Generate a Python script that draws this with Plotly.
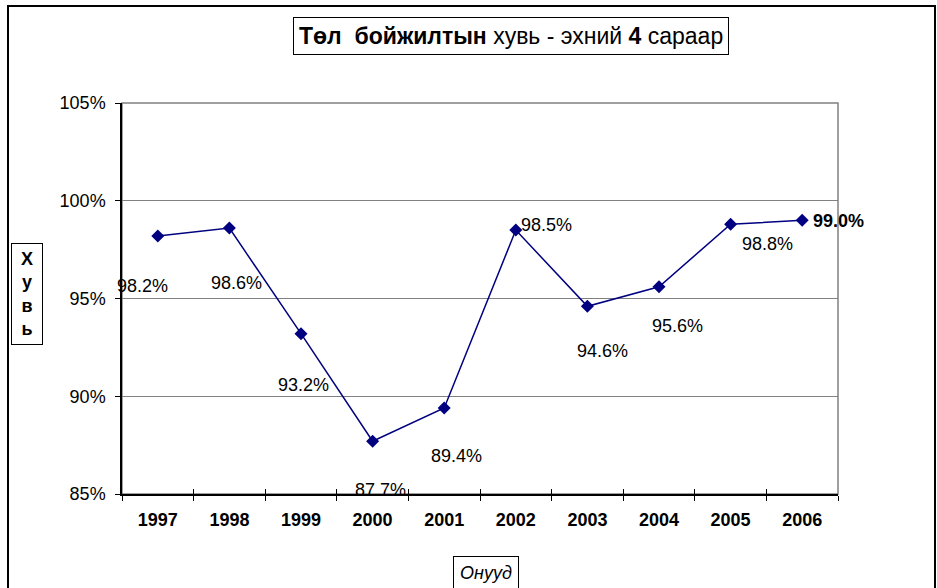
import plotly.graph_objects as go

# data
years = ["1997", "1998", "1999", "2000", "2001", "2002", "2003", "2004", "2005", "2006"]
rate = [98.2, 98.6, 93.2, 87.7, 89.4, 98.5, 94.6, 95.6, 98.8, 99.0]
label_text = ["98.2%", "98.6%", "93.2%", "87.7%", "89.4%", "98.5%", "94.6%", "95.6%", "98.8%", "<b>99.0%</b>"]
y_ticks = [85, 90, 95, 100, 105]

# label offsets in pixels (dx, dy downwards)
label_offsets = [(-15, 50), (7, 55), (2, 51), (8, 49), (12, 48),
                 (31, -5), (15, 45), (18, 39), (37, 20), (36, 1)]

W, H = 937, 588
L, R, T, B = 122, 838, 103, 494
FONT = "Liberation Sans, Arial, sans-serif"
NAVY = "#000080"


def px(x, y):
    """pixel position -> paper coords"""
    return (x - L) / (R - L), (B - y) / (B - T)


fig = go.Figure()

fig.add_trace(go.Scatter(
    x=years, y=rate, mode="lines+markers",
    line=dict(color=NAVY, width=1.5),
    marker=dict(symbol="diamond", size=10, color=NAVY),
    showlegend=False, hoverinfo="x+y",
))

# ghost trace for the inside half of the x ticks
fig.add_trace(go.Scatter(
    x=years, y=rate, xaxis="x2", mode="lines", opacity=0,
    showlegend=False, hoverinfo="skip",
))

for i, (v, txt, (dx, dy)) in enumerate(zip(rate, label_text, label_offsets)):
    fig.add_annotation(x=i, y=v, xref="x", yref="y", text=txt, showarrow=False,
                       xshift=dx, yshift=-dy,
                       font=dict(family=FONT, size=18, color="black"))

# title box
tx, ty = px(511, 36)
fig.add_annotation(
    x=tx, y=ty, xref="paper", yref="paper", showarrow=False,
    xanchor="center", yanchor="middle",
    text="<b>Төл  бойжилтын</b> хувь - эхний <b>4</b> сараар",
    font=dict(family=FONT, size=23, color="black"),
    bordercolor="black", borderwidth=1, borderpad=5, bgcolor="white",
)

# y title box
yx, yy = px(26.5, 294)
fig.add_annotation(
    x=yx, y=yy, xref="paper", yref="paper", showarrow=False,
    xanchor="center", yanchor="middle",
    text="<b>Х</b><br><b>у</b><br><b>в</b><br><b>ь</b>",
    font=dict(family=FONT, size=18, color="black"),
    bordercolor="black", borderwidth=1, borderpad=5, bgcolor="white",
    width=20,
)

# x title box
xx, xy = px(486, 573)
fig.add_annotation(
    x=xx, y=xy, xref="paper", yref="paper", showarrow=False,
    xanchor="center", yanchor="middle",
    text="<i>Онууд</i>",
    font=dict(family=FONT, size=18, color="black"),
    bordercolor="black", borderwidth=1, borderpad=6, bgcolor="white",
)

# outer chart frame
x0, y0 = px(8, 6)
x1, y1 = px(935, 620)
fig.add_shape(type="rect", xref="paper", yref="paper", x0=x0, y0=y1, x1=x1, y1=y0,
              line=dict(color="black", width=2), layer="below")

# plot area border (grey)
fig.add_shape(type="rect", xref="paper", yref="paper", x0=0, y0=0, x1=1, y1=1,
              line=dict(color="#808080", width=1.5), layer="below")

fig.update_layout(
    width=W, height=H,
    margin=dict(l=L, r=W - R, t=T, b=H - B),
    paper_bgcolor="white", plot_bgcolor="white",
    font=dict(family=FONT, size=17, color="black"),
    xaxis=dict(
        type="category", categoryorder="array", categoryarray=years,
        range=[-0.5, len(years) - 0.5],
        showline=True, linecolor="black", linewidth=1.5,
        ticks="outside", ticklen=5, tickcolor="black", tickson="boundaries",
        showgrid=False, zeroline=False,
        tickfont=dict(family=FONT, size=18, color="black", weight="bold"),
        ticklabelstandoff=9,
    ),
    xaxis2=dict(
        type="category", categoryorder="array", categoryarray=years,
        overlaying="x", matches="x", anchor="y",
        ticks="inside", ticklen=5, tickcolor="black", tickson="boundaries",
        showticklabels=False, showgrid=False, showline=False, zeroline=False,
    ),
    yaxis=dict(
        range=[85, 105], tickvals=y_ticks, ticktext=[f"{v}%" for v in y_ticks],
        showline=True, linecolor="black", linewidth=1.5,
        ticks="outside", ticklen=5, tickcolor="black",
        showgrid=True, gridcolor="#808080", gridwidth=1,
        zeroline=False,
        tickfont=dict(family=FONT, size=18, color="black"),
        ticklabelstandoff=6,
    ),
)

fig.write_html("out.html", config={"displayModeBar": False},
               post_script="document.body.style.margin='0';")
